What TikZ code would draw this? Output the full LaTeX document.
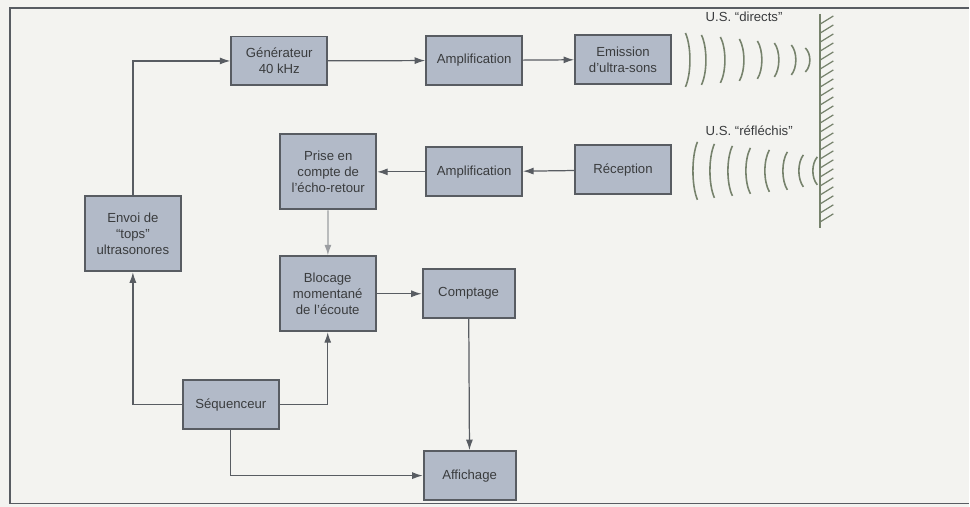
\documentclass[tikz,border=0pt]{standalone}
\usepackage{fontspec}
\setmainfont{Liberation Sans}
\usetikzlibrary{arrows.meta}
\definecolor{paper}{RGB}{243,243,240}
\definecolor{boxfill}{RGB}{178,186,200}
\definecolor{boxline}{RGB}{88,92,98}
\definecolor{wave}{RGB}{118,130,108}
\definecolor{ink}{RGB}{58,60,62}
\begin{document}
\begin{tikzpicture}[x=0.02cm,y=-0.02cm,
  blk/.style={draw=boxline,fill=boxfill,line width=1.1pt,minimum width=1.92cm,minimum height=0.98cm,
    align=center,inner sep=1pt,text=ink,font=\fontsize{7.5}{9}\selectfont},
  tall/.style={minimum height=1.5cm},
  fl/.style={draw=boxline,line width=0.7pt,-{Latex[length=6pt,width=4pt]}},
  wv/.style={draw=wave,line width=0.9pt}]
\fill[paper] (0,0) rectangle (970,507);
\draw[boxline,line width=0.9pt] (970,8) -- (10,8) -- (10,504) -- (970,504);
\useasboundingbox (0,0) rectangle (970,507);
% blocs
\node[blk] (gen) at (279.5,61) {Générateur\\40 kHz};
\node[blk] (amp1) at (474.5,60.5) {Amplification};
\node[blk] (emi) at (623.5,59.5) {Emission\\d'ultra-sons};
\node[blk,tall] (pri) at (328.5,172) {Prise en\\compte de\\l'écho-retour};
\node[blk] (amp2) at (474.5,172) {Amplification};
\node[blk] (rec) at (623.5,170) {Réception};
\node[blk,tall] (env) at (133,234) {Envoi de\\``tops''\\ultrasonores};
\node[blk,tall] (blo) at (328,294) {Blocage\\momentané\\de l'écoute};
\node[blk,minimum width=1.84cm] (cpt) at (469,294) {Comptage};
\node[blk] (seq) at (231,405) {Séquenceur};
\node[blk,minimum width=1.84cm] (aff) at (470,476) {Affichage};
% liaisons
\draw[fl] (env.north) |- (gen.west);
\draw[fl] (gen) -- (amp1);
\draw[fl] (amp1) -- (emi);
\draw[fl] (rec) -- (amp2);
\draw[fl] (amp2) -- (pri);
\draw[fl,draw=boxline!60] (pri) -- (blo);
\draw[fl] (blo) -- (cpt);
\draw[fl] (cpt) -- (aff);
\draw[fl] (seq.west) -| (env.south);
\draw[fl] (seq.east) -| (blo.south);
\draw[fl] (seq.south) |- (aff.west);
% ondes et paroi
\node[text=ink,font=\fontsize{7.5}{9}\selectfont,anchor=west] (ld) at (700,17) {U.S. ``directs''};
\node[text=ink,font=\fontsize{7.5}{9}\selectfont,anchor=west] (lr) at (700,131) {U.S. ``réfléchis''};
\foreach \x/\h in {686/27,702/25,721/23,740/21,758/19,775/17,792/15,806/12}
  \draw[wv] (\x,60-\h) .. controls (\x+6,60-\h/2) and (\x+6,60+\h/2) .. (\x,60+\h);
\foreach \x/\h in {698/29,715/27,733/25,751/23,770/21,788/19,804/16,818/14}
  \draw[wv] (\x,171-\h) .. controls (\x-6,171-\h/2) and (\x-6,171+\h/2) .. (\x,171+\h);
\draw[wv,line width=1.2pt] (821,14) -- (821,228);
\foreach \y in {24,33,...,222}
  \draw[wv,line width=0.7pt] (821,\y) -- (834,\y-8);
\end{tikzpicture}
\end{document}
